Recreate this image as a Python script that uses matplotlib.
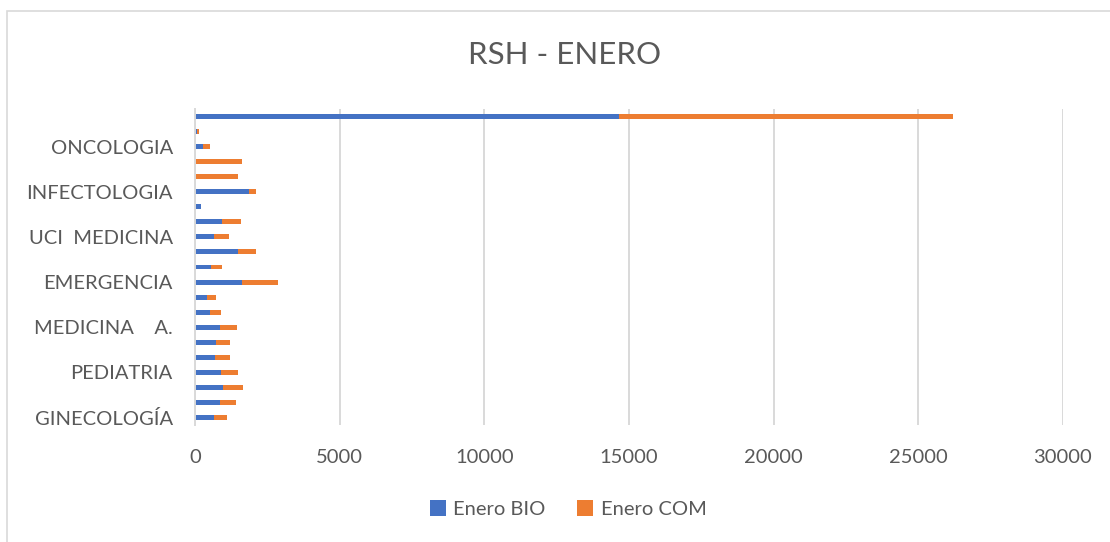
import matplotlib.pyplot as plt
from matplotlib.patches import Rectangle

# Servicios de abajo hacia arriba (solo se rotula cada tercera fila)
servicios = ['GINECOLOGÍA', '', '', 'PEDIATRIA', '', '', 'MEDICINA    A.', '', '',
             'EMERGENCIA', '', '', 'UCI  MEDICINA', '', '', 'INFECTOLOGIA', '', '',
             'ONCOLOGIA', '', '']
enero_bio = [660, 870, 970, 900, 690, 730, 866, 530, 415, 1640, 555,
             1470, 670, 950, 210, 1870, 0, 0, 290, 70, 14650]
enero_com = [450, 550, 690, 600, 520, 470, 580, 370, 315, 1235, 380,
             650, 510, 640, 0, 230, 1480, 1640, 240, 70, 11550]
x_ticks = [0, 5000, 10000, 15000, 20000, 25000, 30000]

plt.rcParams['font.family'] = ['Lato', 'DejaVu Sans']
texto = '#595959'
azul = '#4472C4'
naranja = '#ED7D31'

W, H = 1110, 542
fig = plt.figure(figsize=(W / 100, H / 100), dpi=100)

# marco del grafico
fig.patches.append(Rectangle((7 / W, -0.1), 1.2, 1 - 11 / H + 0.1, transform=fig.transFigure,
                             fill=False, edgecolor='#D9D9D9', lw=1.2))

ax = fig.add_axes([195 / W, 1 - 425 / H, (1063 - 195) / W, (425 - 109) / H])
pos = list(range(len(servicios)))
ax.barh(pos, enero_bio, height=0.33, color=azul, label='Enero BIO')
ax.barh(pos, enero_com, left=enero_bio, height=0.33, color=naranja, label='Enero COM')

ax.set_xlim(0, 30000)
ax.set_ylim(-0.5, len(servicios) - 0.5)
ax.set_xticks(x_ticks)
ax.set_xticklabels([str(v) for v in x_ticks])
ax.set_yticks(pos)
ax.set_yticklabels(servicios)
ax.tick_params(axis='both', length=0, colors=texto, labelsize=14.5)
ax.tick_params(axis='x', pad=17)
ax.tick_params(axis='y', pad=16)
ax.grid(axis='x', color='#D9D9D9', lw=1.4)
ax.set_axisbelow(True)
for s in ['top', 'right', 'bottom']:
    ax.spines[s].set_visible(False)
ax.spines['left'].set_color('#D9D9D9')
ax.spines['left'].set_linewidth(1.4)

fig.text(565 / W, 1 - 55 / H, 'RSH - ENERO', ha='center', va='center',
         fontsize=22.5, color=texto)

fig.legend(loc='center', bbox_to_anchor=(568 / W, 1 - 509 / H), ncol=2, frameon=False,
           fontsize=14.5, labelcolor=texto, handlelength=0.8, handleheight=0.8,
           handletextpad=0.35, columnspacing=1.6)

fig.savefig('out.png', dpi=100)
